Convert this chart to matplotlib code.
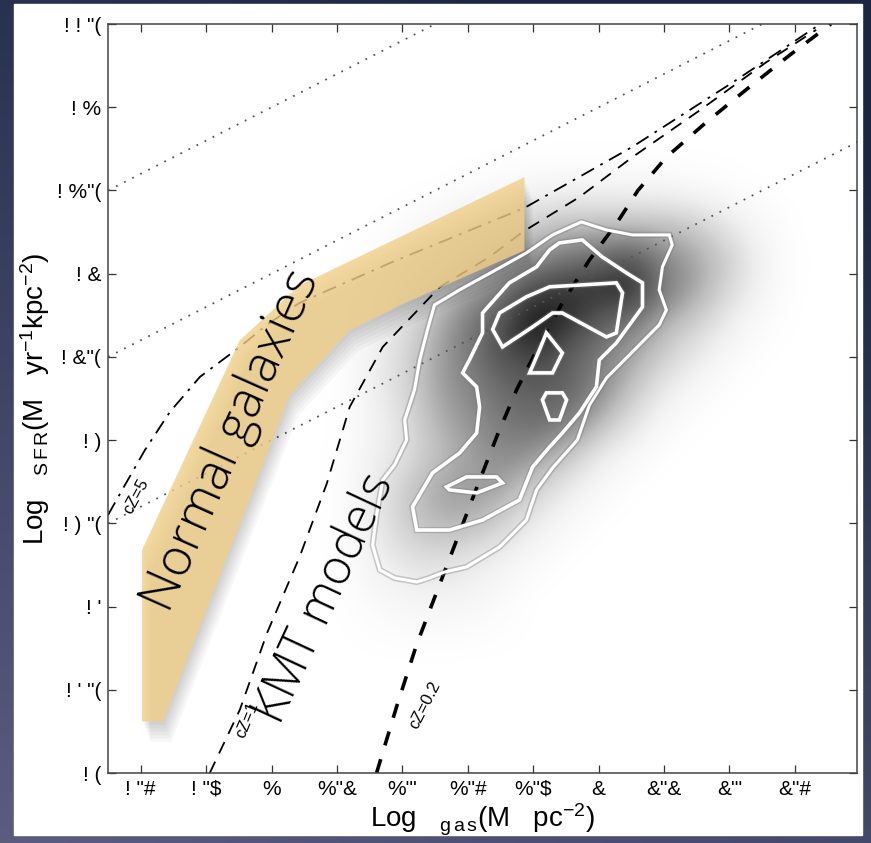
import numpy as np
import matplotlib.pyplot as plt
from matplotlib.patches import Polygon, Rectangle
import matplotlib.patheffects as pe

plt.rcParams['mathtext.fontset'] = 'custom'
plt.rcParams['mathtext.rm'] = 'Liberation Sans'
plt.rcParams['mathtext.it'] = 'Liberation Sans:italic'

NARROW = ['Liberation Sans', 'DejaVu Sans']
ROUND = ['Open Sans', 'Roboto', 'DejaVu Sans']

# ticks (labels kept as the broken glyphs shown on the slide)
x_ticks = [0.6, 0.8, 1.0, 1.2, 1.4, 1.6, 1.8, 2.0, 2.2, 2.4, 2.6]
x_ticklabels = ['! "#', '! "\\$', '%', '%"&', "%\"'", '%"#', '%"\\$', '&', '&"&', "&\"'", '&"#']
y_ticks = [-5.0, -4.5, -4.0, -3.5, -3.0, -2.5, -2.0, -1.5, -1.0, -0.5]
y_ticklabels = ['! (', "! ' \"(", "! '", '! ) "(', '! )', '! &"(', '! &', '! %"(', '! %', '! ! "(']

# gray density map of pixels (rows top->bottom, log Sigma_SFR)
dens_x = [1.2, 1.3, 1.4, 1.5, 1.6, 1.7, 1.8, 1.9, 2.0, 2.1, 2.2, 2.3, 2.4, 2.5, 2.6]
dens_y = [-1.3, -1.5, -1.7, -1.9, -2.1, -2.3, -2.5, -2.7, -2.9, -3.1, -3.3, -3.5, -3.7, -3.9, -4.1, -4.3]
density = [
    [0, 0.00, 0.00, 0.00, 0.00, 0.00, 0.00, 0.00, 0.00, 0.00, 0.00, 0.00, 0.00, 0.00, 0],
    [0, 0.00, 0.00, 0.00, 0.02, 0.05, 0.08, 0.10, 0.10, 0.10, 0.08, 0.05, 0.02, 0.00, 0],
    [0, 0.00, 0.02, 0.08, 0.15, 0.20, 0.30, 0.35, 0.35, 0.35, 0.35, 0.30, 0.15, 0.05, 0],
    [0, 0.02, 0.08, 0.15, 0.25, 0.40, 0.50, 0.60, 0.65, 0.75, 0.55, 0.45, 0.30, 0.10, 0],
    [0, 0.05, 0.15, 0.30, 0.45, 0.60, 0.80, 0.85, 0.85, 0.90, 0.60, 0.45, 0.25, 0.08, 0],
    [0, 0.08, 0.20, 0.40, 0.60, 0.75, 0.95, 0.85, 0.70, 0.60, 0.40, 0.30, 0.12, 0.03, 0],
    [0, 0.10, 0.25, 0.45, 0.60, 0.75, 0.80, 0.70, 0.60, 0.45, 0.30, 0.15, 0.05, 0.00, 0],
    [0, 0.10, 0.25, 0.45, 0.55, 0.65, 0.70, 0.70, 0.55, 0.35, 0.15, 0.05, 0.00, 0.00, 0],
    [0, 0.08, 0.20, 0.40, 0.50, 0.60, 0.65, 0.60, 0.40, 0.20, 0.05, 0.00, 0.00, 0.00, 0],
    [0, 0.10, 0.20, 0.35, 0.45, 0.55, 0.50, 0.35, 0.15, 0.05, 0.00, 0.00, 0.00, 0.00, 0],
    [0, 0.12, 0.30, 0.45, 0.50, 0.45, 0.30, 0.15, 0.05, 0.00, 0.00, 0.00, 0.00, 0.00, 0],
    [0, 0.12, 0.30, 0.40, 0.40, 0.30, 0.15, 0.05, 0.00, 0.00, 0.00, 0.00, 0.00, 0.00, 0],
    [0, 0.10, 0.20, 0.25, 0.20, 0.12, 0.05, 0.00, 0.00, 0.00, 0.00, 0.00, 0.00, 0.00, 0],
    [0, 0.05, 0.10, 0.12, 0.10, 0.05, 0.00, 0.00, 0.00, 0.00, 0.00, 0.00, 0.00, 0.00, 0],
    [0, 0.02, 0.04, 0.05, 0.04, 0.02, 0.00, 0.00, 0.00, 0.00, 0.00, 0.00, 0.00, 0.00, 0],
    [0, 0.00, 0.00, 0.00, 0.00, 0.00, 0.00, 0.00, 0.00, 0.00, 0.00, 0.00, 0.00, 0.00, 0],
]

# white contours (x = log Sigma_gas, y = log Sigma_SFR)
cont_outer = [(1.947, -1.689), (2.024, -1.737), (2.103, -1.767), (2.216, -1.767), (2.225, -1.827),
              (2.195, -1.959), (2.185, -2.097), (2.207, -2.218), (2.185, -2.308), (2.103, -2.470),
              (2.024, -2.626), (1.972, -2.788), (1.935, -2.999), (1.859, -3.167), (1.810, -3.299),
              (1.779, -3.480), (1.697, -3.642), (1.596, -3.762), (1.529, -3.792), (1.483, -3.828),
              (1.444, -3.852), (1.376, -3.828), (1.331, -3.780), (1.309, -3.630), (1.321, -3.450),
              (1.340, -3.239), (1.376, -3.149), (1.413, -2.999), (1.407, -2.879), (1.437, -2.698),
              (1.453, -2.518), (1.477, -2.335), (1.498, -2.188), (1.575, -2.097), (1.697, -1.965),
              (1.779, -1.875), (1.859, -1.767)]
cont_mid = [(1.880, -1.815), (1.950, -1.797), (2.011, -1.899), (2.085, -1.995), (2.134, -2.055),
            (2.134, -2.200), (2.054, -2.416), (2.002, -2.518), (1.993, -2.680), (1.941, -2.837),
            (1.889, -2.957), (1.850, -3.041), (1.798, -3.161), (1.758, -3.359), (1.645, -3.480),
            (1.544, -3.540), (1.444, -3.540), (1.431, -3.401), (1.492, -3.197), (1.575, -3.077),
            (1.627, -2.957), (1.636, -2.800), (1.627, -2.680), (1.584, -2.596), (1.605, -2.518),
            (1.645, -2.356), (1.645, -2.236), (1.727, -2.055), (1.810, -1.959), (1.850, -1.857)]
cont_inner = [
    [(1.676, -2.335), (1.697, -2.236), (1.779, -2.139), (1.850, -2.079), (2.054, -2.055),
     (2.073, -2.115), (2.054, -2.356), (2.024, -2.380), (1.889, -2.236), (1.859, -2.236),
     (1.798, -2.320), (1.706, -2.440)],
    [(1.840, -2.356), (1.889, -2.476), (1.859, -2.596), (1.789, -2.596), (1.819, -2.458)],
    [(1.840, -2.716), (1.889, -2.716), (1.902, -2.758), (1.880, -2.879), (1.850, -2.879), (1.828, -2.758)],
    [(1.535, -3.281), (1.596, -3.221), (1.688, -3.221), (1.706, -3.257), (1.627, -3.317), (1.544, -3.299)],
]

# constant depletion time lines: log SFR = log gas + offset
dep_offsets = [-2.0, -3.0, -4.0]

# KMT model curves
kmt5_x = [0.500, 0.552, 0.613, 0.689, 0.781, 0.903, 0.985, 1.086, 1.370, 1.773, 2.103, 2.408, 2.683]
kmt5_y = [-3.450, -3.269, -3.059, -2.831, -2.620, -2.440, -2.308, -2.175, -1.929, -1.605, -1.238, -0.853, -0.493]
kmt1_x = [0.811, 0.903, 0.986, 1.086, 1.169, 1.239, 1.340, 1.514, 1.666, 1.767, 1.941, 2.103, 2.308, 2.512, 2.665]
kmt1_y = [-5.00, -4.62, -4.16, -3.70, -3.26, -2.80, -2.44, -2.08, -1.90, -1.75, -1.54, -1.30, -1.02, -0.73, -0.535]
kmt02_x = [1.321, 1.382, 1.443, 1.505, 1.566, 1.627, 1.688, 1.749, 1.819, 1.889, 1.972, 2.054, 2.120,
           2.207, 2.329, 2.460, 2.582, 2.710]
kmt02_y = [-5.000, -4.603, -4.231, -3.912, -3.600, -3.287, -2.981, -2.698, -2.428, -2.175, -1.917, -1.700,
           -1.500, -1.300, -1.090, -0.880, -0.690, -0.500]

# normal galaxies band
band_x = [0.604, 0.604, 0.903, 1.086, 1.773, 1.773, 1.392, 1.239, 1.056, 0.668]
band_y = [-4.69, -3.66, -2.40, -2.07, -1.42, -1.86, -2.19, -2.34, -2.73, -4.69]


fig = plt.figure(figsize=(8.71, 8.43), dpi=100)

# slide background
bg = fig.add_axes([0, 0, 1, 1])
gx, gy = np.meshgrid(np.linspace(0, 1, 100), np.linspace(0, 1, 100))
t = np.clip(0.75 * gy + 0.35 * (1 - gx) - 0.15, 0, 1)
dark = np.array([0.11, 0.15, 0.27])
light = np.array([0.37, 0.37, 0.51])
grad = dark[None, None, :] * (1 - t[..., None]) + light[None, None, :] * t[..., None]
bg.imshow(grad, extent=[0, 1, 0, 1], aspect='auto', origin='upper')
bg.add_patch(Rectangle((14 / 871, 8 / 843), 848 / 871, 831 / 843, color='white', transform=bg.transAxes))
bg.set_xlim(0, 1)
bg.set_ylim(0, 1)
bg.axis('off')

ax = fig.add_axes([0.124, 0.083, 0.860, 0.8885])
ax.set_facecolor('white')

ax.imshow(density, cmap='Greys', vmin=0, vmax=1, interpolation='bicubic', aspect='auto',
          extent=[dens_x[0] - 0.05, dens_x[-1] + 0.05, dens_y[-1] - 0.1, dens_y[0] + 0.1],
          origin='upper', zorder=1)

xs = np.array([0.5, 2.8])
for off in dep_offsets:
    ax.plot(xs, xs + off, color='#555555', lw=1.3, ls=(0, (1, 4)), zorder=2)

ax.plot(kmt5_x, kmt5_y, color='black', lw=1.3, ls=(0, (8, 4, 1.5, 4)), zorder=2)
ax.plot(kmt1_x, kmt1_y, color='black', lw=1.3, ls=(0, (7, 5)), zorder=2)
ax.plot(kmt02_x, kmt02_y, color='black', lw=2.6, ls=(0, (4, 4)), zorder=2)

shadow = [pe.SimplePatchShadow(offset=(1.0 * i, -2.5 * i), shadow_rgbFace='black', alpha=0.03)
          for i in range(1, 7)]
band = Polygon(list(zip(band_x, band_y)), closed=True, facecolor='#f0cf88', edgecolor='none',
               alpha=0.8, zorder=3)
band.set_path_effects(shadow + [pe.Normal()])
ax.add_patch(band)

glow = [pe.Stroke(linewidth=4.5, foreground='#777777', alpha=0.35), pe.Normal()]
for poly, lw in [(cont_outer, 2.2), (cont_mid, 2.6)] + [(p, 2.6) for p in cont_inner]:
    c = Polygon(poly, closed=True, fill=False, edgecolor='white', lw=lw, zorder=4)
    c.set_path_effects(glow)
    ax.add_patch(c)

ax.text(0.878, -3.0, 'Normal galaxies', rotation=66, fontsize=37, family=ROUND, fontweight='light',
        color='black', ha='center', va='center', rotation_mode='anchor', zorder=5)
ax.text(1.165, -3.95, 'KMT models', rotation=65, fontsize=35, family=ROUND, fontweight='light',
        color='black', ha='center', va='center', rotation_mode='anchor', zorder=5)
ax.text(0.585, -3.34, 'cZ=5', rotation=62, fontsize=12, family=NARROW, ha='center', va='center',
        rotation_mode='anchor', zorder=5)
ax.text(0.925, -4.68, 'cZ=1', rotation=68, fontsize=12, family=NARROW, ha='center', va='center',
        rotation_mode='anchor', zorder=5)
ax.text(1.468, -4.59, 'cZ=0.2', rotation=63, fontsize=12, family=NARROW, ha='center', va='center',
        rotation_mode='anchor', zorder=5)

ax.set_xlim(0.5, 2.79)
ax.set_ylim(-5.0, -0.5)
ax.set_xticks(x_ticks)
ax.set_xticklabels(x_ticklabels, fontsize=15, family=NARROW)
ax.set_yticks(y_ticks)
ax.set_yticklabels(y_ticklabels, fontsize=15, family=NARROW)
ax.tick_params(direction='in', length=6, width=0.9, top=True, right=True, color='#333333', pad=5)
for s in ax.spines.values():
    s.set_color('#444444')
    s.set_linewidth(1.1)

ax.set_xlabel(r'Log   ${}_{\mathrm{g\,a\,s}}$(M   pc$^{-2}$)', fontsize=20, family=NARROW, va='center')
ax.xaxis.set_label_coords(0.5, -0.063)
ax.set_ylabel(r'Log   ${}_{\mathrm{S\,F\,R}}$(M   yr$^{-1}$kpc$^{-2}$)', fontsize=20, family=NARROW,
              va='center')
ax.yaxis.set_label_coords(-0.097, 0.5)

fig.savefig('out.png', dpi=100)
